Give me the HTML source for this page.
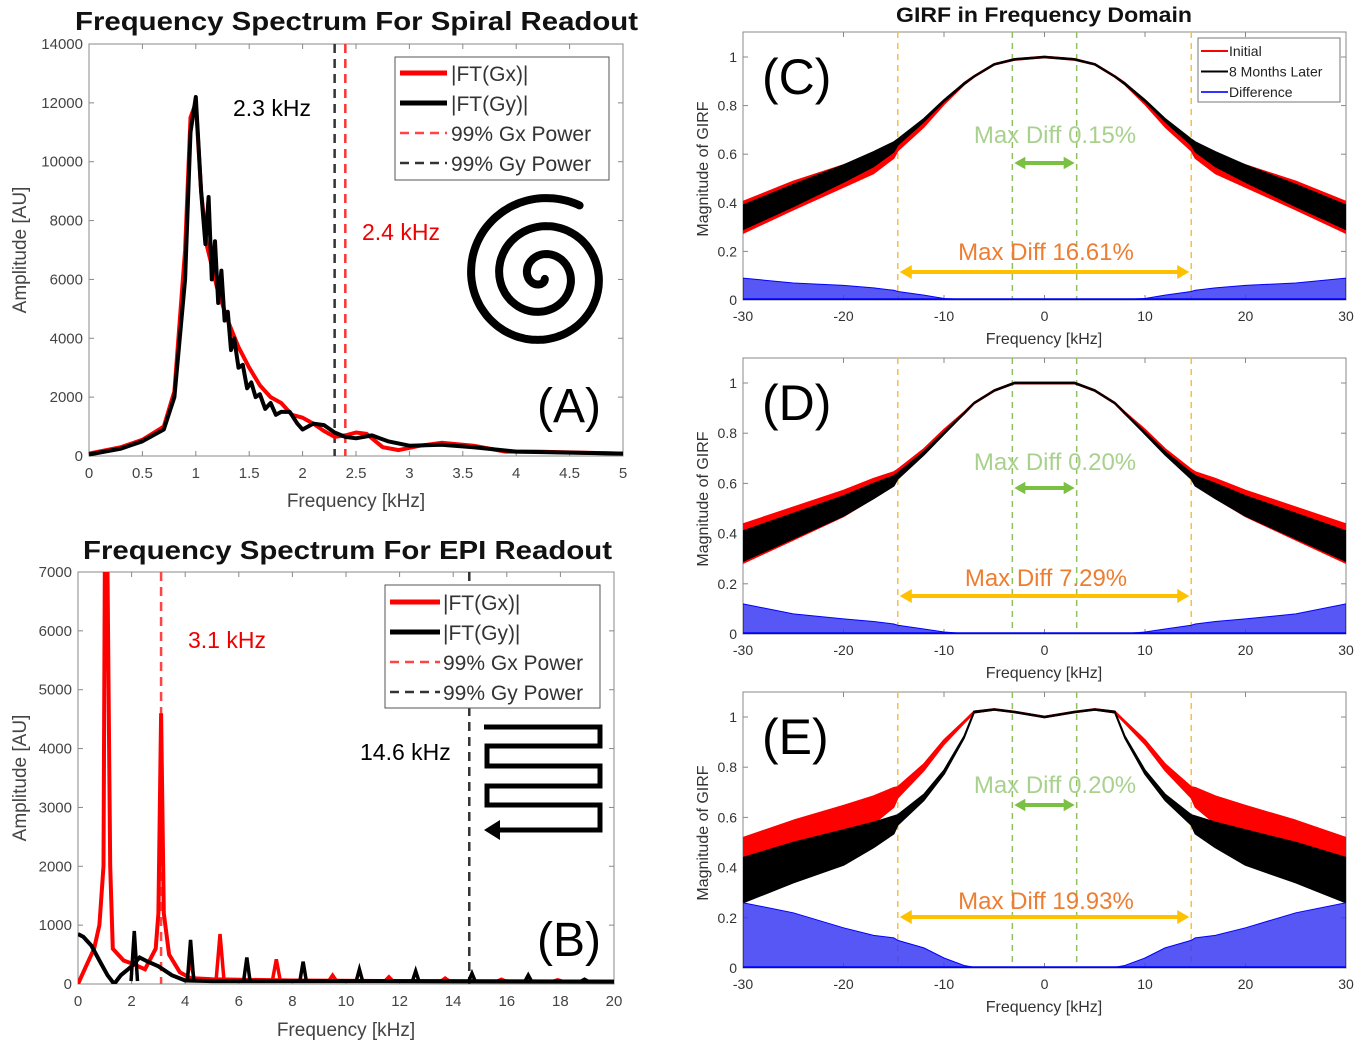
<!DOCTYPE html>
<html><head><meta charset="utf-8"><style>
html,body{margin:0;padding:0;background:#fff;}
svg{display:block;font-family:"Liberation Sans",sans-serif;}
.tk{font-size:15px;fill:#444;}
.tk2{font-size:14px;fill:#333;}
</style></head><body>
<svg id="fig" width="1360" height="1042" viewBox="0 0 1360 1042" xmlns="http://www.w3.org/2000/svg"></svg>
<script>
// ---- Panel A data ----
const aGxFreq = [0,0.3,0.5,0.7,0.8,0.9,0.95,1.0,1.05,1.1,1.2,1.3,1.4,1.5,1.6,1.7,1.8,1.9,2.0,2.1,2.2,2.3,2.4,2.5,2.6,2.75,2.9,3.1,3.3,3.6,3.9,4.2,5.0];
const aGxAmp  = [80,300,550,1000,2200,7000,11500,12000,9000,7200,5700,4600,3700,3000,2400,2000,1800,1400,1300,1100,850,650,700,800,750,300,200,350,450,350,150,150,80];
const aGyFreq = [0,0.3,0.5,0.7,0.8,0.9,0.95,1.0,1.05,1.09,1.12,1.15,1.18,1.21,1.24,1.27,1.3,1.33,1.36,1.4,1.44,1.48,1.52,1.56,1.6,1.65,1.7,1.75,1.8,1.88,1.95,2.0,2.1,2.2,2.3,2.4,2.5,2.65,2.8,3.0,3.3,3.6,4.0,5.0];
const aGyAmp  = [50,250,500,900,2000,6000,11000,12200,9000,7200,8800,6000,7300,5200,6300,4600,4900,3600,4000,3000,3100,2300,2500,2000,2100,1600,1800,1400,1500,1500,1100,900,1100,1050,800,650,600,700,500,350,380,300,150,80];
const aGxCut = 2.4, aGyCut = 2.3;
const aXTicks = [0,0.5,1,1.5,2,2.5,3,3.5,4,4.5,5];
const aYTicks = [0,2000,4000,6000,8000,10000,12000,14000];
// ---- Panel B data ----
const bGxBaseFreq = [0,0.3,0.6,0.8,0.95,1.0,1.1,1.2,1.3,1.5,1.7,2.0,2.5,2.9,3.0,3.1,3.2,3.4,3.8,4.2,5,8,12,20];
const bGxBaseAmp  = [0,300,600,1000,2000,7000,7000,2000,600,500,400,350,250,600,1200,4600,1200,500,200,100,80,60,50,40];
const bGxSpikeFreq = [4.2,5.3,7.4,9.5,11.6,13.7,15.8,17.9];
const bGxSpikeAmp  = [400,850,420,150,120,100,80,70];
const bGyBaseFreq = [0,0.2,0.5,0.8,1.1,1.35,1.6,2.0,2.3,2.6,3.0,3.5,4.0,5,8,12,20];
const bGyBaseAmp  = [850,800,650,400,150,0,150,300,450,380,300,150,60,50,50,50,40];
const bGySpikeFreq = [2.1,4.2,6.3,8.4,10.5,12.6,14.7,16.8,18.9];
const bGySpikeAmp  = [900,750,450,380,250,220,180,150,80];
const bGxCut = 3.1, bGyCut = 14.6;
const bXTicks = [0,2,4,6,8,10,12,14,16,18,20];
const bYTicks = [0,1000,2000,3000,4000,5000,6000,7000];
// ---- GIRF data (C, D, E) ----
const gFreq = [-30,-25,-20,-17,-15,-14.6,-12,-10,-8,-7,-5,-3,0,3,5,7,8,10,12,14.6,15,17,20,25,30];
const cBlack = [0.34,0.43,0.52,0.58,0.63,0.65,0.74,0.82,0.89,0.92,0.97,0.99,1.0,0.99,0.97,0.92,0.89,0.82,0.74,0.65,0.63,0.58,0.52,0.43,0.34];
const cRed   = [0.34,0.43,0.51,0.56,0.61,0.63,0.72,0.81,0.89,0.92,0.97,0.99,1.0,0.99,0.97,0.92,0.89,0.81,0.72,0.63,0.61,0.56,0.51,0.43,0.34];
const cNoise = [0.05,0.045,0.035,0.03,0.02,0.012,0.006,0.004,0.003,0.002,0.002,0.002,0.002,0.002,0.002,0.002,0.003,0.004,0.006,0.012,0.02,0.03,0.035,0.045,0.05];
const cDiff  = [0.09,0.07,0.06,0.05,0.04,0.035,0.02,0.006,0.002,0.002,0.001,0.001,0.001,0.001,0.001,0.002,0.002,0.006,0.02,0.035,0.04,0.05,0.06,0.07,0.09];
const dBlack = [0.35,0.43,0.51,0.57,0.61,0.63,0.72,0.80,0.88,0.92,0.97,1.0,1.0,1.0,0.97,0.92,0.88,0.80,0.72,0.63,0.61,0.57,0.51,0.43,0.35];
const dRed   = [0.36,0.44,0.52,0.58,0.62,0.64,0.73,0.81,0.88,0.92,0.97,1.0,1.0,1.0,0.97,0.92,0.88,0.81,0.73,0.64,0.62,0.58,0.52,0.44,0.36];
const dNoise = [0.06,0.05,0.04,0.03,0.02,0.012,0.006,0.004,0.003,0.002,0.002,0.002,0.002,0.002,0.002,0.002,0.003,0.004,0.006,0.012,0.02,0.03,0.04,0.05,0.06];
const dDiff  = [0.12,0.08,0.06,0.05,0.04,0.035,0.02,0.008,0.002,0.001,0.001,0.001,0.001,0.001,0.001,0.001,0.002,0.008,0.02,0.035,0.04,0.05,0.06,0.08,0.12];
const eBlack = [0.35,0.42,0.48,0.53,0.57,0.59,0.68,0.78,0.92,1.02,1.03,1.02,1.0,1.02,1.03,1.02,0.92,0.78,0.68,0.59,0.57,0.53,0.48,0.42,0.35];
const eRed   = [0.42,0.50,0.57,0.63,0.68,0.70,0.80,0.90,0.98,1.02,1.03,1.02,1.0,1.02,1.03,1.02,0.98,0.90,0.80,0.70,0.68,0.63,0.57,0.50,0.42];
const eNoise = [0.09,0.08,0.07,0.05,0.035,0.02,0.012,0.008,0.004,0.003,0.002,0.002,0.002,0.002,0.002,0.003,0.004,0.008,0.012,0.02,0.035,0.05,0.07,0.08,0.09];
const eDiff  = [0.26,0.22,0.16,0.13,0.12,0.11,0.08,0.04,0.01,0.003,0.002,0.002,0.002,0.002,0.002,0.003,0.01,0.04,0.08,0.11,0.12,0.13,0.16,0.22,0.26];
const gXTicks = [-30,-20,-10,0,10,20,30];
const gYTicks = [0,0.2,0.4,0.6,0.8,1];
const gInner = 3.2, gOuter = 14.6;

const NS = "http://www.w3.org/2000/svg";
const svg = document.getElementById('fig');
function mk(tag, attrs, parent){const e=document.createElementNS(NS,tag);for(const k in attrs)e.setAttribute(k,attrs[k]);(parent||svg).appendChild(e);return e;}
function txt(s, attrs, parent){const e=mk('text',attrs,parent);e.textContent=s;return e;}
function lin(d0,d1,r0,r1){return v=>r0+(v-d0)/(d1-d0)*(r1-r0);}
function pts(xs,ys,X,Y){return xs.map((x,i)=>X(x).toFixed(1)+','+Y(ys[i]).toFixed(1)).join(' ');}

function axes(g,X,Y,x0,x1,yTop,yBot,xt,yt,cls,fmt){
  const box=mk('rect',{x:x0,y:yTop,width:x1-x0,height:yBot-yTop,fill:'none',stroke:'#888','stroke-width':1},g);
  
  
  xt.forEach(v=>{const x=X(v);
    mk('line',{x1:x,x2:x,y1:yBot,y2:yBot-5,stroke:'#888'},g);mk('line',{x1:x,x2:x,y1:yTop,y2:yTop+5,stroke:'#888'},g);
    const t=txt(String(v),{x:x,y:yBot+22,'text-anchor':'middle',class:cls},g);
    
    });
  yt.forEach(v=>{const y=Y(v);
    mk('line',{x1:x0,x2:x0+5,y1:y,y2:y,stroke:'#888'},g);mk('line',{x1:x1,x2:x1-5,y1:y,y2:y,stroke:'#888'},g);
    const t=txt(fmt?fmt(v):String(v),{x:x0-6,y:y+5,'text-anchor':'end',class:cls},g);
    
    });
}

// ===== Panel A =====
(function(){
  const g=mk('g',{});
  
  
  const X=lin(0,5,89,623), Y=lin(0,14000,456,44);
  txt('Frequency Spectrum For Spiral Readout',{x:75,y:30,'font-size':26,'font-weight':'bold',fill:'#111',textLength:563,lengthAdjust:'spacingAndGlyphs'},g);
  axes(g,X,Y,89,623,44,456,aXTicks,aYTicks,'tk');
  txt('Frequency [kHz]',{x:356,y:507,'text-anchor':'middle','font-size':19,fill:'#444'},g);
  txt('Amplitude [AU]',{x:26,y:250,'text-anchor':'middle','font-size':19,fill:'#444',transform:'rotate(-90 26 250)'},g);
  const cg=mk('g',{},g);
  const l1=mk('line',{x1:X(aGyCut),x2:X(aGyCut),y1:44,y2:456,stroke:'#333','stroke-width':2.5,'stroke-dasharray':'9,6'},cg);
  
  
  const l2=mk('line',{x1:X(aGxCut),x2:X(aGxCut),y1:44,y2:456,stroke:'#f33','stroke-width':2.5,'stroke-dasharray':'9,6'},cg);
  
  
  const r=mk('polyline',{points:pts(aGxFreq,aGxAmp,X,Y),fill:'none',stroke:'#f00','stroke-width':4,'stroke-linejoin':'round'},cg);
  
  
  const b=mk('polyline',{points:pts(aGyFreq,aGyAmp,X,Y),fill:'none',stroke:'#000','stroke-width':4,'stroke-linejoin':'round'},cg);
  
  
  txt('2.3 kHz',{x:233,y:116,'font-size':23,fill:'#000'},g);
  txt('2.4 kHz',{x:362,y:240,'font-size':23,fill:'#e00'},g);
  const lg=mk('g',{},g);
  
  
  mk('rect',{x:395,y:57,width:214,height:123,fill:'#fff',stroke:'#555'},lg);
  const items=[['|FT(Gx)|','#f00',5,''],['|FT(Gy)|','#000',5,''],['99% Gx Power','#f44',2.5,'9,6'],['99% Gy Power','#333',2.5,'9,6']];
  items.forEach((it,i)=>{const y=73+i*30;
    mk('line',{x1:400,x2:447,y1:y,y2:y,stroke:it[1],'stroke-width':it[2],'stroke-dasharray':it[3]},lg);
    const t=txt(it[0],{x:451,y:y+8,'font-size':21,fill:'#333'},lg);
    
    });
  let d='';const cx=542,cy=276,turns=2.7,N=400,tEnd=turns*2*Math.PI,off=-62*Math.PI/180-tEnd;
  for(let i=0;i<=N;i++){const th=i/N*tEnd;const rr=4+th*(76/tEnd);const a=th+off;
    d+=(i?'L':'M')+(cx+rr*Math.cos(a)).toFixed(1)+','+(cy+rr*Math.sin(a)).toFixed(1);}
  const sp=mk('path',{d:d,fill:'none',stroke:'#000','stroke-width':8,'stroke-linecap':'round'},g);
  
  
  txt('(A)',{x:537,y:422,'font-size':48,fill:'#000'},g);
})();

// ===== Panel B =====
(function(){
  const g=mk('g',{});
  
  
  const X=lin(0,20,78,614), Y=lin(0,7000,984,572);
  txt('Frequency Spectrum For EPI Readout',{x:83,y:559,'font-size':26,'font-weight':'bold',fill:'#111',textLength:529,lengthAdjust:'spacingAndGlyphs'},g);
  axes(g,X,Y,78,614,572,984,bXTicks,bYTicks,'tk');
  txt('Frequency [kHz]',{x:346,y:1036,'text-anchor':'middle','font-size':19,fill:'#444'},g);
  txt('Amplitude [AU]',{x:26,y:778,'text-anchor':'middle','font-size':19,fill:'#444',transform:'rotate(-90 26 778)'},g);
  const cp=mk('clipPath',{id:'clipB'},svg);mk('rect',{x:78,y:572,width:536,height:412},cp);
  const cg=mk('g',{'clip-path':'url(#clipB)'},g);
  const l1=mk('line',{x1:X(bGxCut),x2:X(bGxCut),y1:572,y2:984,stroke:'#f44','stroke-width':2.5,'stroke-dasharray':'9,6'},cg);
  
  
  const l2=mk('line',{x1:X(bGyCut),x2:X(bGyCut),y1:572,y2:984,stroke:'#333','stroke-width':2.5,'stroke-dasharray':'9,6'},cg);
  
  
  const r=mk('polyline',{points:pts(bGxBaseFreq,bGxBaseAmp,X,Y),fill:'none',stroke:'#f00','stroke-width':4},cg);
  
  
  bGxSpikeFreq.forEach((f,i)=>{const s=mk('polyline',{points:X(f-0.15)+','+Y(50)+' '+X(f)+','+Y(bGxSpikeAmp[i])+' '+X(f+0.15)+','+Y(50),fill:'none',stroke:'#f00','stroke-width':3.5},cg);
    
    });
  const b=mk('polyline',{points:pts(bGyBaseFreq,bGyBaseAmp,X,Y),fill:'none',stroke:'#000','stroke-width':4},cg);
  
  
  bGySpikeFreq.forEach((f,i)=>{const s=mk('polyline',{points:X(f-0.12)+','+Y(50)+' '+X(f)+','+Y(bGySpikeAmp[i])+' '+X(f+0.12)+','+Y(50),fill:'none',stroke:'#000','stroke-width':3.5},cg);
    
    });
  txt('3.1 kHz',{x:188,y:648,'font-size':23,fill:'#e00'},g);
  txt('14.6 kHz',{x:360,y:760,'font-size':23,fill:'#000'},g);
  const lg=mk('g',{},g);
  
  
  mk('rect',{x:385,y:585,width:215,height:123,fill:'#fff',stroke:'#555'},lg);
  const items=[['|FT(Gx)|','#f00',5,''],['|FT(Gy)|','#000',5,''],['99% Gx Power','#f44',2.5,'9,6'],['99% Gy Power','#333',2.5,'9,6']];
  items.forEach((it,i)=>{const y=602+i*30;
    mk('line',{x1:390,x2:440,y1:y,y2:y,stroke:it[1],'stroke-width':it[2],'stroke-dasharray':it[3]},lg);
    const t=txt(it[0],{x:443,y:y+8,'font-size':21,fill:'#333'},lg);
    
    });
  const ep=mk('path',{d:'M484,727 H600 V746 H487 V766 H600 V786 H487 V805 H600 V830 H496',fill:'none',stroke:'#000','stroke-width':5},g);
  
  
  mk('polygon',{points:'484,830 500,820 500,840',fill:'#000'},g);
  txt('(B)',{x:537,y:956,'font-size':48,fill:'#000'},g);
})();

// ===== GIRF panels =====
function girf(name,label,top,y1px,y0px,black,red,noise,diff,noiseRed,greenTxt,orangeTxt,gTy,gAy,oTy,oAy){
  const g=mk('g',{});
  
  
  const X=lin(-30,30,743,1346), Y=lin(0,1,y0px,y1px);
  const cid='clip'+label;
  const cp=mk('clipPath',{id:cid},svg);mk('rect',{x:743,y:top,width:603,height:y0px-top},cp);
  axes(g,X,Y,743,1346,top,y0px,gXTicks,gYTicks,'tk2',v=>v===0||v===1?String(v):v.toFixed(1));
  g.querySelectorAll('.tk2').forEach(t=>{if(t.getAttribute('text-anchor')==='middle')t.setAttribute('y',y0px+21);});
  txt('Frequency [kHz]',{x:1044,y:y0px+44,'text-anchor':'middle','font-size':16,fill:'#333'},g);
  const ym=(y0px+top)/2+3;
  txt('Magnitude of GIRF',{x:708,y:ym,'text-anchor':'middle','font-size':16,fill:'#333',transform:'rotate(-90 708 '+ym+')'},g);
  const cg=mk('g',{'clip-path':'url(#'+cid+')'},g);
  [-gOuter,gOuter].forEach(f=>{const l=mk('line',{x1:X(f),x2:X(f),y1:top,y2:y0px,stroke:'#f5c040','stroke-width':1.5,'stroke-dasharray':'6,5'},cg);
    
    });
  [-gInner,gInner].forEach(f=>{const l=mk('line',{x1:X(f),x2:X(f),y1:top,y2:y0px,stroke:'#90c060','stroke-width':1.5,'stroke-dasharray':'6,5'},cg);
    
    });
  function band(c,n,k,col,nm){
    const up=gFreq.map((f,i)=>X(f).toFixed(1)+','+Y(c[i]+n[i]*k).toFixed(1));
    const lo=gFreq.map((f,i)=>X(f).toFixed(1)+','+Y(c[i]-n[i]*k).toFixed(1)).reverse();
    const p=mk('polygon',{points:up.concat(lo).join(' '),fill:col,stroke:col,'stroke-width':1.5,'stroke-linejoin':'round'},cg);
    
    
  }
  band(red,noise,noiseRed,'#f00','initial-girf-trace');
  band(black,noise,1,'#000','later-girf-trace');
  const dp=gFreq.map((f,i)=>X(f).toFixed(1)+','+Y(diff[i]).toFixed(1));
  const dpoly=mk('polygon',{points:X(-30)+','+Y(0)+' '+dp.join(' ')+' '+X(30)+','+Y(0),fill:'#3a3af5','fill-opacity':0.85,stroke:'#0000ff','stroke-width':1},cg);
  
  
  mk('line',{x1:743,x2:1346,y1:Y(0)-1,y2:Y(0)-1,stroke:'#00f','stroke-width':1.5},cg);
  txt(greenTxt,{x:1055,y:gTy,'text-anchor':'middle','font-size':24,fill:'#a9d18e'},g);
  txt(orangeTxt,{x:1046,y:oTy,'text-anchor':'middle','font-size':24,fill:'#ed7d31'},g);
  function arrow(xa,xb,y,col,w,h,nm){
    const a=mk('g',{},g);
    
    
    mk('line',{x1:xa+h,x2:xb-h,y1:y,y2:y,stroke:col,'stroke-width':w},a);
    mk('polygon',{points:xa+','+y+' '+(xa+h+2)+','+(y-h*0.7)+' '+(xa+h+2)+','+(y+h*0.7),fill:col},a);
    mk('polygon',{points:xb+','+y+' '+(xb-h-2)+','+(y-h*0.7)+' '+(xb-h-2)+','+(y+h*0.7),fill:col},a);
  }
  arrow(X(-gInner)+2,X(gInner)-2,gAy,'#7ac143',4,9,'inner-band-arrow');
  arrow(X(-gOuter)+2,X(gOuter)-2,oAy,'#ffc000',4,10,'outer-band-arrow');
  txt('('+label+')',{x:762,y:top+62,'font-size':50,fill:'#000'},g);
}
txt('GIRF in Frequency Domain',{x:896,y:22,'font-size':21,'font-weight':'bold',fill:'#111',textLength:296,lengthAdjust:'spacingAndGlyphs'});
girf('panel-c-girf','C',32,57,300,cBlack,cRed,cNoise,cDiff,1.3,'Max Diff 0.15%','Max Diff 16.61%',143,163,260,272);
girf('panel-d-girf','D',358,383,634,dBlack,dRed,dNoise,dDiff,1.3,'Max Diff 0.20%','Max Diff 7.29%',470,488,586,596);
girf('panel-e-girf','E',692,717,968,eBlack,eRed,eNoise,eDiff,1.1,'Max Diff 0.20%','Max Diff 19.93%',793,805,909,917);
(function(){
  const lg=mk('g',{});
  
  
  mk('rect',{x:1198,y:38,width:142,height:64,fill:'#fff',stroke:'#777'},lg);
  [['Initial','#f00'],['8 Months Later','#000'],['Difference','#33f']].forEach((it,i)=>{const y=51+i*20.5;
    mk('line',{x1:1201,x2:1228,y1:y,y2:y,stroke:it[1],'stroke-width':2},lg);
    const t=txt(it[0],{x:1229,y:y+5,'font-size':14,fill:'#222'},lg);
    
    });
})();
</script>
</body></html>
